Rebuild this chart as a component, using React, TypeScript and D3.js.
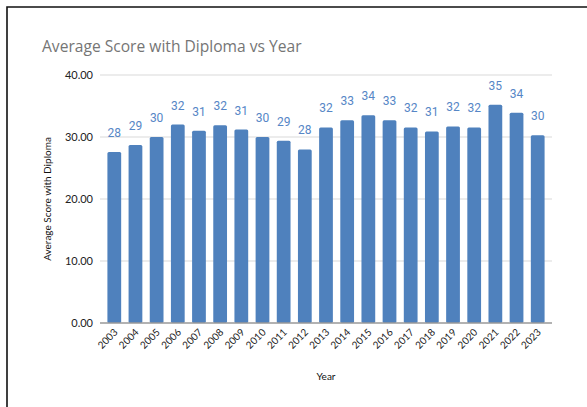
import { useRef, useEffect } from 'react';
import * as d3 from 'd3';

const years = [
  '2003', '2004', '2005', '2006', '2007', '2008', '2009', '2010', '2011', '2012', '2013',
  '2014', '2015', '2016', '2017', '2018', '2019', '2020', '2021', '2022', '2023'
];
const scores = [
  27.6, 28.7, 30.0, 32.0, 31.0, 31.9, 31.2, 30.0, 29.4, 28.0, 31.55,
  32.7, 33.5, 32.7, 31.55, 30.9, 31.7, 31.55, 35.2, 33.9, 30.3
];
const yTicks = [0, 10, 20, 30, 40];

const chartTitle = 'Average Score with Diploma vs Year';
const xLabel = 'Year';
const yLabel = 'Average Score with Diploma';

const W = 587;
const H = 407;
const barColor = '#4f81bd';

const App = () => {
  const svgRef = useRef<SVGSVGElement>(null);

  useEffect(() => {
    if (!svgRef.current) return;
    const svg = d3.select(svgRef.current);
    svg.selectAll('*').remove();

    const left = 100, right = 552, top = 75, bottom = 323;

    const x = d3.scaleBand<string>().domain(years).range([left, right]).padding(0.35);
    const y = d3.scaleLinear().domain([0, 40]).range([bottom, top]);

    // white background + frame (left and top edges visible)
    svg.append('rect').attr('width', W).attr('height', H).attr('fill', '#fff');
    svg.append('path')
      .attr('d', `M7,${H + 5}V7H${W + 5}`)
      .attr('fill', 'none')
      .attr('stroke', '#111')
      .attr('stroke-width', 1.6);

    // title
    svg.append('text')
      .attr('x', 42)
      .attr('y', 52)
      .attr('fill', '#757575')
      .attr('font-family', '"Open Sans", sans-serif')
      .attr('font-size', 15.6)
      .text(chartTitle);

    // grid
    svg.append('g')
      .selectAll('line')
      .data(yTicks.filter(t => t > 0))
      .join('line')
      .attr('x1', left)
      .attr('x2', right)
      .attr('y1', d => y(d))
      .attr('y2', d => y(d))
      .attr('stroke', '#d9d9d9')
      .attr('stroke-width', 1);

    // y tick labels
    svg.append('g')
      .selectAll('text')
      .data(yTicks)
      .join('text')
      .attr('x', 93)
      .attr('y', d => y(d) + 4)
      .attr('text-anchor', 'end')
      .attr('fill', '#222')
      .attr('font-family', 'Lato, sans-serif')
      .attr('font-size', 11)
      .text(d => d3.format('.2f')(d));

    // bars
    svg.append('g')
      .selectAll('rect')
      .data(scores)
      .join('rect')
      .attr('x', (_, i) => x(years[i])!)
      .attr('y', d => y(d))
      .attr('width', x.bandwidth())
      .attr('height', d => bottom - y(d))
      .attr('rx', 1.5)
      .attr('fill', barColor);

    // value labels
    svg.append('g')
      .selectAll('text')
      .data(scores)
      .join('text')
      .attr('x', (_, i) => x(years[i])! + x.bandwidth() / 2)
      .attr('y', d => y(d) - 15)
      .attr('text-anchor', 'middle')
      .attr('fill', '#5686c6')
      .attr('font-family', 'Roboto, sans-serif')
      .attr('font-size', 12)
      .text(d => d3.format('.0f')(d));

    // x axis line
    svg.append('line')
      .attr('x1', left)
      .attr('x2', right)
      .attr('y1', bottom)
      .attr('y2', bottom)
      .attr('stroke', '#999')
      .attr('stroke-width', 1.5);

    // x tick labels, rotated
    svg.append('g')
      .selectAll('text')
      .data(years)
      .join('text')
      .attr('transform', d => `translate(${x(d)! + x.bandwidth() / 2 + 4},${bottom + 10}) rotate(-45)`)
      .attr('text-anchor', 'end')
      .attr('fill', '#222')
      .attr('font-family', 'Lato, sans-serif')
      .attr('font-size', 10)
      .text(d => d);

    // axis titles
    svg.append('text')
      .attr('x', (left + right) / 2)
      .attr('y', 380)
      .attr('text-anchor', 'middle')
      .attr('fill', '#111')
      .attr('font-family', 'Lato, sans-serif')
      .attr('font-size', 10)
      .text(xLabel);

    svg.append('text')
      .attr('transform', `translate(51,${(top + bottom) / 2}) rotate(-90)`)
      .attr('text-anchor', 'middle')
      .attr('fill', '#111')
      .attr('font-family', 'Lato, sans-serif')
      .attr('font-size', 10)
      .text(yLabel);
  }, []);

  return <svg ref={svgRef} width={W} height={H} style={{ position: 'absolute', left: 0, top: 0 }} />;
};

export default App;
